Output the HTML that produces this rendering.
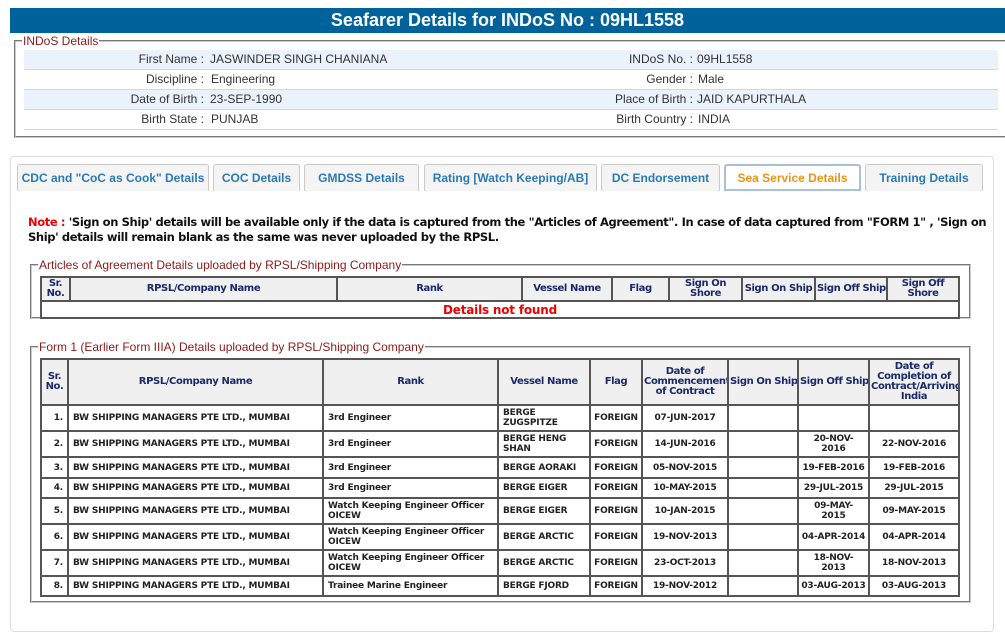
<!DOCTYPE html>
<html><head><style>
*{box-sizing:border-box}
body{margin:0;width:1005px;height:636px;background:#fff;font-family:"Liberation Sans",Arial,sans-serif;position:relative;overflow:hidden}
.abs{position:absolute}
.hdr{left:10px;top:8px;width:995px;height:25px;background:#00629b;color:#fff;font:bold 18px "Liberation Sans",Arial,sans-serif;text-align:center;line-height:25px}
fieldset{position:absolute;margin:0;border:2px groove #ccc;padding:0}
legend{font-size:12px;color:#8b1a1a;padding:0 1px;margin-left:6px}
.row{position:absolute;left:24px;width:974px;height:20px;border-bottom:1px solid #d0d8e0;font-size:12px;color:#333;line-height:19px}
.row.a{background:#eaf2fb}
.l{position:absolute;text-align:right;left:0}
.l1{width:180px}.l2{width:669px}
.v{position:absolute}
.tab{position:absolute;top:164px;height:27px;border:1px solid #c9c9c9;border-bottom:none;border-radius:3px 3px 0 0;background:#f4f4f4;color:#2a7ab7;font:bold 12px "Liberation Sans",Arial,sans-serif;text-align:center;line-height:27px}
.tab.act{background:#fff;border:2px solid #a8c0d8;color:#e8941a;line-height:25px}
.note{left:28px;top:215px;width:970px;font:bold 11.5px "DejaVu Sans",Verdana,sans-serif;color:#111;line-height:15px;letter-spacing:-0.38px}
table{position:absolute;border-collapse:collapse;table-layout:fixed;font:bold 9px "DejaVu Sans",Verdana,sans-serif;color:#222;letter-spacing:-0.2px}
td,th{border:2px solid #555;padding:0 4px;line-height:10px;overflow:hidden}
th{background:#f0f0f0;color:#1a2a6a;font-size:10px;text-align:center;padding:0 1px;letter-spacing:-0.4px}
td.c{text-align:center;padding:0 1px;white-space:nowrap}
</style></head><body>
<div class="abs hdr">Seafarer Details for INDoS No : 09HL1558</div>
<fieldset style="left:14px;top:34px;width:1000px;height:104px"><legend>INDoS Details</legend></fieldset>
<div class="row a" style="top:50px"><span class="l l1">First Name :</span><span class="v" style="left:186px">JASWINDER SINGH CHANIANA</span><span class="l l2">INDoS No. :</span><span class="v" style="left:673px">09HL1558</span></div>
<div class="row" style="top:70px"><span class="l l1">Discipline :</span><span class="v" style="left:187px">Engineering</span><span class="l l2">Gender :</span><span class="v" style="left:674px">Male</span></div>
<div class="row a" style="top:90px"><span class="l l1">Date of Birth :</span><span class="v" style="left:186px">23-SEP-1990</span><span class="l l2">Place of Birth :</span><span class="v" style="left:673px">JAID KAPURTHALA</span></div>
<div class="row" style="top:110px"><span class="l l1">Birth State :</span><span class="v" style="left:187px">PUNJAB</span><span class="l l2">Birth Country :</span><span class="v" style="left:674px">INDIA</span></div>

<div class="abs" style="left:10px;top:156px;width:984px;height:476px;border:1px solid #ddd;border-radius:4px"></div>
<div class="tab" style="left:17px;width:192px">CDC and "CoC as Cook" Details</div>
<div class="tab" style="left:213px;width:87px">COC Details</div>
<div class="tab" style="left:304px;width:115px">GMDSS Details</div>
<div class="tab" style="left:424px;width:173px">Rating [Watch Keeping/AB]</div>
<div class="tab" style="left:601px;width:119px">DC Endorsement</div>
<div class="tab act" style="left:724px;width:137px">Sea Service Details</div>
<div class="tab" style="left:865px;width:118px">Training Details</div>

<div class="abs note"><span style="color:#e00">Note :</span> 'Sign on Ship' details will be available only if the data is captured from the "Articles of Agreement". In case of data captured from "FORM 1" , 'Sign on Ship' details will remain blank as the same was never uploaded by the RPSL.</div>

<fieldset style="left:30px;top:258px;width:941px;height:61px"><legend>Articles of Agreement Details uploaded by RPSL/Shipping Company</legend></fieldset>
<table style="left:40px;top:276px;width:918px">
<colgroup><col style="width:29px"><col style="width:267px"><col style="width:185px"><col style="width:90px"><col style="width:57px"><col style="width:73px"><col style="width:73px"><col style="width:72px"><col style="width:72px"></colgroup>
<tr style="height:24px"><th>Sr.<br>No.</th><th>RPSL/Company Name</th><th>Rank</th><th>Vessel Name</th><th>Flag</th><th>Sign On<br>Shore</th><th style="white-space:nowrap">Sign On Ship</th><th style="white-space:nowrap">Sign Off Ship</th><th>Sign Off<br>Shore</th></tr>
<tr style="height:17px"><td colspan="9" class="c" style="color:#e00;font-size:12px">Details not found</td></tr>
</table>

<fieldset style="left:30px;top:340px;width:941px;height:263px"><legend>Form 1 (Earlier Form IIIA) Details uploaded by RPSL/Shipping Company</legend></fieldset>
<table style="left:40px;top:358px;width:918px">
<colgroup><col style="width:27px"><col style="width:255px"><col style="width:175px"><col style="width:92px"><col style="width:52px"><col style="width:86px"><col style="width:70px"><col style="width:71px"><col style="width:90px"></colgroup>
<tr style="height:46px"><th>Sr.<br>No.</th><th>RPSL/Company Name</th><th>Rank</th><th>Vessel Name</th><th>Flag</th><th>Date of Commencement of Contract</th><th style="white-space:nowrap">Sign On Ship</th><th style="white-space:nowrap">Sign Off Ship</th><th>Date of Completion of Contract/Arriving India</th></tr>
<tr style="height:26px"><td style="text-align:right">1.</td><td>BW SHIPPING MANAGERS PTE LTD., MUMBAI</td><td>3rd Engineer</td><td>BERGE ZUGSPITZE</td><td class="c">FOREIGN</td><td class="c">07-JUN-2017</td><td></td><td></td><td></td></tr>
<tr style="height:26px"><td style="text-align:right">2.</td><td>BW SHIPPING MANAGERS PTE LTD., MUMBAI</td><td>3rd Engineer</td><td>BERGE HENG SHAN</td><td class="c">FOREIGN</td><td class="c">14-JUN-2016</td><td></td><td class="c">20-NOV-<br>2016</td><td class="c">22-NOV-2016</td></tr>
<tr style="height:21px"><td style="text-align:right">3.</td><td>BW SHIPPING MANAGERS PTE LTD., MUMBAI</td><td>3rd Engineer</td><td>BERGE AORAKI</td><td class="c">FOREIGN</td><td class="c">05-NOV-2015</td><td></td><td class="c">19-FEB-2016</td><td class="c">19-FEB-2016</td></tr>
<tr style="height:20px"><td style="text-align:right">4.</td><td>BW SHIPPING MANAGERS PTE LTD., MUMBAI</td><td>3rd Engineer</td><td>BERGE EIGER</td><td class="c">FOREIGN</td><td class="c">10-MAY-2015</td><td></td><td class="c">29-JUL-2015</td><td class="c">29-JUL-2015</td></tr>
<tr style="height:26px"><td style="text-align:right">5.</td><td>BW SHIPPING MANAGERS PTE LTD., MUMBAI</td><td>Watch Keeping Engineer Officer OICEW</td><td>BERGE EIGER</td><td class="c">FOREIGN</td><td class="c">10-JAN-2015</td><td></td><td class="c">09-MAY-<br>2015</td><td class="c">09-MAY-2015</td></tr>
<tr style="height:26px"><td style="text-align:right">6.</td><td>BW SHIPPING MANAGERS PTE LTD., MUMBAI</td><td>Watch Keeping Engineer Officer OICEW</td><td>BERGE ARCTIC</td><td class="c">FOREIGN</td><td class="c">19-NOV-2013</td><td></td><td class="c">04-APR-2014</td><td class="c">04-APR-2014</td></tr>
<tr style="height:26px"><td style="text-align:right">7.</td><td>BW SHIPPING MANAGERS PTE LTD., MUMBAI</td><td>Watch Keeping Engineer Officer OICEW</td><td>BERGE ARCTIC</td><td class="c">FOREIGN</td><td class="c">23-OCT-2013</td><td></td><td class="c">18-NOV-<br>2013</td><td class="c">18-NOV-2013</td></tr>
<tr style="height:20px"><td style="text-align:right">8.</td><td>BW SHIPPING MANAGERS PTE LTD., MUMBAI</td><td>Trainee Marine Engineer</td><td>BERGE FJORD</td><td class="c">FOREIGN</td><td class="c">19-NOV-2012</td><td></td><td class="c">03-AUG-2013</td><td class="c">03-AUG-2013</td></tr>
</table>
</body></html>
